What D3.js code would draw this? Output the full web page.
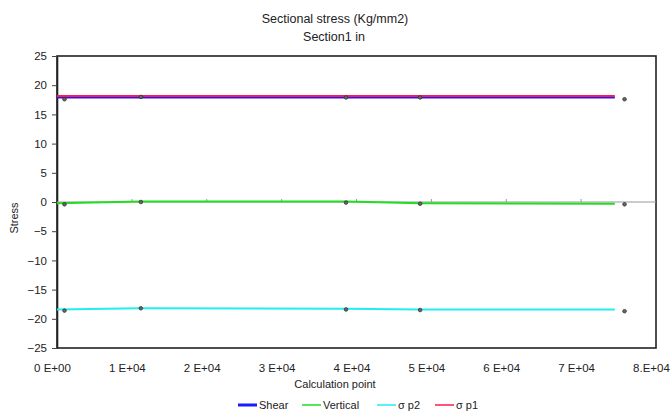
<!DOCTYPE html>
<html>
<head>
<meta charset="utf-8">
<script src="https://cdn.jsdelivr.net/npm/d3@7"></script>
<style>
  html, body { margin: 0; padding: 0; background: #fff; }
  svg text { font-family: "Liberation Sans", Arial, sans-serif; fill: #222; }
</style>
</head>
<body>
<svg id="chart" width="672" height="417"></svg>
<script>
// Calculation points (x) where section stresses are evaluated
const calcPoints = [0, 11200, 38600, 48500, 74500];
// Stress values (Kg/mm2) per series at each calculation point
const shear    = [17.9, 17.9, 17.9, 17.9, 17.9];
const vertical = [-0.2, 0.1, 0.1, -0.2, -0.3];
const sigmaP2  = [-18.4, -18.2, -18.3, -18.4, -18.4];
const sigmaP1  = [18.15, 18.15, 18.15, 18.15, 18.15];
// Point marks placed near each calculation point
const markPoints = [1000, 11200, 38600, 48500, 75800];
const markShear    = [17.6, 18.0, 17.9, 17.9, 17.6];
const markVertical = [-0.4, 0.0, -0.1, -0.3, -0.4];
const markP2       = [-18.6, -18.2, -18.4, -18.5, -18.7];

const yTicks = [25, 20, 15, 10, 5, 0, -5, -10, -15, -20, -25];
const xTicks = [0, 10000, 20000, 30000, 40000, 50000, 60000, 70000, 80000];
const xTickLabels = ["0 E+00", "1 E+04", "2 E+04", "3 E+04", "4 E+04", "5 E+04", "6 E+04", "7 E+04", "8.E+04"];

const seriesNames  = ["Shear", "Vertical", "\u03c3 p2", "\u03c3 p1"];
const seriesColors = ["#1a1aff", "#22dd22", "#22eeee", "#ff1a4a"];
const seriesValues = [shear, vertical, sigmaP2, sigmaP1];

const svg = d3.select("#chart");
const plotL = 57, plotR = 656, plotT = 56, plotB = 348;

const x = d3.scaleLinear().domain([0, 80000]).range([plotL, plotR]);
const y = d3.scaleLinear().domain([-25, 25]).range([plotB, plotT]);

// Titles
svg.append("text").attr("x", 335).attr("y", 23).attr("text-anchor", "middle")
  .style("font-size", "12.5px").text("Sectional stress (Kg/mm2)");
svg.append("text").attr("x", 334).attr("y", 41).attr("text-anchor", "middle")
  .style("font-size", "12.5px").text("Section1 in");

// Plot frame
svg.append("rect").attr("x", plotL).attr("y", plotT)
  .attr("width", plotR - plotL).attr("height", plotB - plotT)
  .attr("fill", "#fff").attr("stroke", "#222").attr("stroke-width", 1.6);

// Y axis
const yAxis = d3.axisLeft(y).tickValues(yTicks).tickSize(5).tickSizeOuter(0)
  .tickFormat(d => d < 0 ? "\u2212" + Math.abs(d) : d);
const gy = svg.append("g").attr("transform", `translate(${plotL},0)`).call(yAxis);
gy.select(".domain").attr("stroke", "#222").attr("stroke-width", 1.6);
gy.selectAll(".tick line").attr("stroke", "#444");
gy.selectAll(".tick text").attr("x", -10).style("font-size", "11.5px").style("font-family", "Liberation Sans, Arial, sans-serif").attr("fill", "#222");

// X axis labels along the bottom
const xAxis = d3.axisBottom(x).tickValues(xTicks).tickSize(0)
  .tickFormat((d, i) => xTickLabels[i]);
const gx = svg.append("g").attr("transform", `translate(-5,${plotB})`).call(xAxis);
gx.select(".domain").remove();
gx.selectAll(".tick text").attr("y", 16).style("font-size", "11.5px").style("font-family", "Liberation Sans, Arial, sans-serif").attr("fill", "#222");

// Zero line with small ticks
svg.append("line").attr("x1", plotL).attr("x2", plotR).attr("y1", y(0)).attr("y2", y(0))
  .attr("stroke", "#999").attr("stroke-width", 1);
svg.append("g").selectAll("line").data(xTicks.slice(1, -1)).join("line")
  .attr("x1", d => x(d)).attr("x2", d => x(d))
  .attr("y1", y(0)).attr("y2", y(0) - 3).attr("stroke", "#999");

// Axis titles
svg.append("text").attr("transform", `translate(18,${(plotT + plotB) / 2 + 16}) rotate(-90)`)
  .attr("text-anchor", "middle").style("font-size", "11px").text("Stress");
svg.append("text").attr("x", 335).attr("y", 388).attr("text-anchor", "middle")
  .style("font-size", "11px").text("Calculation point");

// Series lines
const line = d3.line().x((d, i) => x(calcPoints[i])).y(d => y(d));
seriesValues.forEach((vals, k) => {
  svg.append("path").datum(vals).attr("d", line)
    .attr("fill", "none").attr("stroke", seriesColors[k]).attr("stroke-width", 2);
});

// Point marks
[markShear, markVertical, markP2].forEach(vals => {
  svg.append("g").selectAll("circle").data(vals).join("circle")
    .attr("cx", (d, i) => x(markPoints[i])).attr("cy", d => y(d))
    .attr("r", 1.8).attr("fill", "#666").attr("stroke", "#333").attr("stroke-width", 0.8);
});

// Legend
const legend = svg.append("g").attr("transform", "translate(238,409)");
const legendX = [0, 64, 139, 197];
seriesNames.forEach((name, k) => {
  const g = legend.append("g").attr("transform", `translate(${legendX[k]},0)`);
  g.append("line").attr("x1", 0).attr("x2", 19).attr("y1", -4).attr("y2", -4)
    .attr("stroke", seriesColors[k]).attr("stroke-width", k === 0 ? 3 : 1.5);
  g.append("text").attr("x", 21).attr("y", 0).style("font-size", "11px").text(name);
});
</script>
</body>
</html>
